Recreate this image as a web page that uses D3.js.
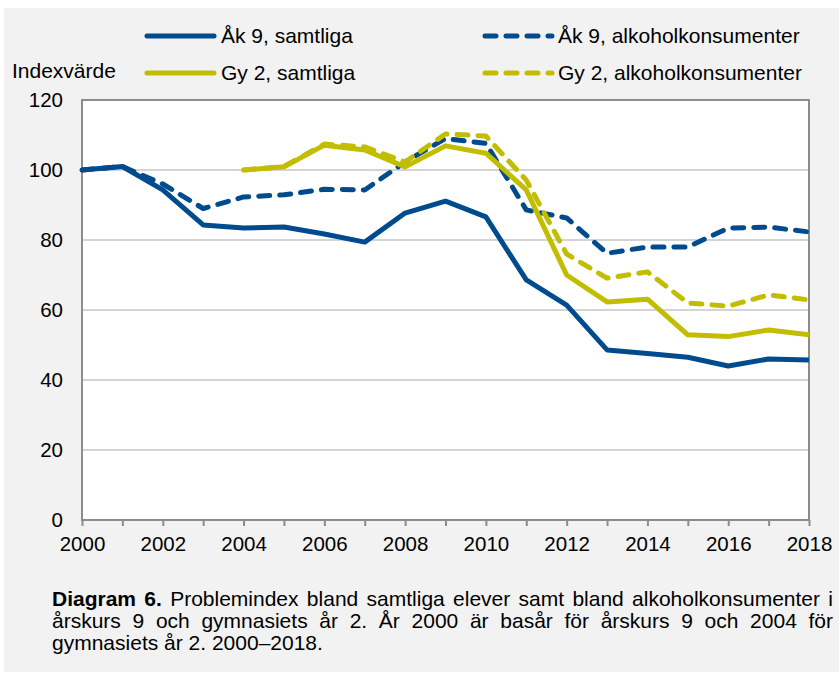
<!DOCTYPE html>
<html>
<head>
<meta charset="utf-8">
<script src="https://cdn.jsdelivr.net/npm/d3@7"></script>
<style>
    body { margin: 0; background: #ffffff; }
    svg { display: block; font-family: "Liberation Sans", Arial, sans-serif; }
</style>
</head>
<body>
<div id="chart"></div>
<script>
    'use strict';

    // data
    const years = [2000, 2001, 2002, 2003, 2004, 2005, 2006, 2007, 2008, 2009,
        2010, 2011, 2012, 2013, 2014, 2015, 2016, 2017, 2018];
    const ak9All = [100, 101, 94.3, 84.3, 83.4, 83.7, 81.7, 79.4, 87.7, 91.1,
        86.6, 68.6, 61.4, 48.6, 47.6, 46.5, 44, 46, 45.7];
    const ak9Alc = [100, 101, 96, 89, 92.3, 92.9, 94.5, 94.3, 102.3, 109,
        107.6, 88.6, 86.3, 76.2, 78, 78, 83.4, 83.7, 82.3];
    const gyAll = [null, null, null, null, 100, 100.9, 107.1, 105.7, 100.9, 106.9,
        104.8, 94.3, 70, 62.3, 63.1, 52.9, 52.4, 54.3, 52.9];
    const gyAlc = [null, null, null, null, 100, 101, 107.4, 106.6, 102.3, 110.3,
        109.7, 97.1, 76, 69.1, 70.9, 62, 61.1, 64.3, 62.9];
    const yTicks = [0, 20, 40, 60, 80, 100, 120];
    const xTicks = [2000, 2002, 2004, 2006, 2008, 2010, 2012, 2014, 2016, 2018];
    const seriesNames = ['Åk 9, samtliga', 'Åk 9, alkoholkonsumenter',
        'Gy 2, samtliga', 'Gy 2, alkoholkonsumenter'];
    const captionLines = [
        'Diagram 6. Problemindex bland samtliga elever samt bland alkoholkonsumenter i',
        'årskurs 9 och gymnasiets år 2. År 2000 är basår för årskurs 9 och 2004 för',
        'gymnasiets år 2. 2000–2018.'
    ];

    // styles
    const blue = '#004b8d',
        yellow = '#c3bd00',
        axisColor = '#8c8c8c',
        gridColor = '#d4d4d4',
        panelColor = '#f2f2f2',
        fontSize = 20.5,
        legendSize = 21,
        fontFamily = '"Liberation Sans", Arial, sans-serif';

    const width = 839,
        height = 674,
        plot = {left: 82, right: 809, top: 100, bottom: 520};

    const series = [
        {name: seriesNames[0], values: ak9All, color: blue, dashed: false},
        {name: seriesNames[1], values: ak9Alc, color: blue, dashed: true},
        {name: seriesNames[2], values: gyAll, color: yellow, dashed: false},
        {name: seriesNames[3], values: gyAlc, color: yellow, dashed: true}
    ];

    const svg = d3.select('#chart')
      .append('svg')
        .attr('width', width)
        .attr('height', height);

    // grey panel behind everything
    svg.append('rect')
        .attr('x', 4)
        .attr('y', 8)
        .attr('width', width - 4)
        .attr('height', height - 10)
        .attr('fill', panelColor);

    const x = d3.scaleLinear()
        .domain([2000, 2018])
        .range([plot.left, plot.right]);

    const y = d3.scaleLinear()
        .domain([0, 120])
        .range([plot.bottom, plot.top]);

    // plot area
    svg.append('rect')
        .attr('x', plot.left)
        .attr('y', plot.top)
        .attr('width', plot.right - plot.left)
        .attr('height', plot.bottom - plot.top)
        .attr('fill', '#ffffff');

    // gridlines
    svg.append('g')
        .selectAll('line')
        .data(yTicks.filter(d => d > 0 && d < 120))
        .join('line')
        .attr('x1', plot.left)
        .attr('x2', plot.right)
        .attr('y1', d => y(d))
        .attr('y2', d => y(d))
        .attr('stroke', gridColor)
        .attr('stroke-width', 2);

    // y axis labels
    const yAxis = svg.append('g')
        .attr('transform', `translate(${plot.left},0)`)
        .call(d3.axisLeft(y).tickValues(yTicks).tickSize(0).tickPadding(19));
    yAxis.select('.domain').remove();
    yAxis.selectAll('text')
        .attr('font-size', fontSize)
        .attr('font-family', fontFamily)
        .attr('fill', '#000');

    // x axis, ticks every year, labels every second
    const xAxis = svg.append('g')
        .attr('transform', `translate(0,${plot.bottom})`)
        .call(d3.axisBottom(x)
            .tickValues(years)
            .tickSize(6)
            .tickPadding(10)
            .tickFormat(d => xTicks.includes(d) ? d : ''));
    xAxis.select('.domain').remove();
    xAxis.selectAll('line')
        .attr('stroke', axisColor)
        .attr('stroke-width', 2);
    xAxis.selectAll('text')
        .attr('font-size', fontSize)
        .attr('font-family', fontFamily)
        .attr('fill', '#000');

    // plot frame
    svg.append('rect')
        .attr('x', plot.left)
        .attr('y', plot.top)
        .attr('width', plot.right - plot.left)
        .attr('height', plot.bottom - plot.top)
        .attr('fill', 'none')
        .attr('stroke', axisColor)
        .attr('stroke-width', 2);

    // lines
    const line = d3.line()
        .defined(d => d.value !== null)
        .x(d => x(d.year))
        .y(d => y(d.value));

    svg.append('g')
        .selectAll('path')
        .data(series)
        .join('path')
        .attr('d', s => line(years.map((yr, i) => ({year: yr, value: s.values[i]}))))
        .attr('fill', 'none')
        .attr('stroke', s => s.color)
        .attr('stroke-width', 5)
        .attr('stroke-linejoin', 'round')
        .attr('stroke-linecap', s => s.dashed ? 'round' : 'butt')
        .attr('stroke-dasharray', s => s.dashed ? '11,10' : null);

    // y axis title
    svg.append('text')
        .attr('x', 12)
        .attr('y', 78)
        .attr('font-size', legendSize)
        .text('Indexvärde');

    // legend
    const legendPos = [
        {x: 145, y: 36},
        {x: 482, y: 36},
        {x: 145, y: 73},
        {x: 482, y: 73}
    ];

    const legend = svg.append('g')
        .selectAll('g')
        .data(series)
        .join('g')
        .attr('transform', (s, i) => `translate(${legendPos[i].x},${legendPos[i].y})`);

    legend.append('line')
        .attr('x1', s => s.dashed ? 3 : 2)
        .attr('x2', s => s.dashed ? 70 : 69)
        .attr('stroke', s => s.color)
        .attr('stroke-width', 5)
        .attr('stroke-linecap', 'round')
        .attr('stroke-dasharray', s => s.dashed ? '11,10' : null);

    legend.append('text')
        .attr('x', 76)
        .attr('dy', '0.35em')
        .attr('font-size', legendSize)
        .text(s => s.name);

    // caption, first two lines justified
    const captionLeft = 52,
        captionRight = 833,
        captionTop = 606,
        captionStep = 22,
        captionSize = 21;

    captionLines.forEach((textLine, li) => {
        const words = textLine.split(' ');
        const g = svg.append('g');
        const nodes = words.map((w, wi) => g.append('text')
            .attr('y', captionTop + li * captionStep)
            .attr('font-size', captionSize)
            .attr('font-weight', li === 0 && wi < 2 ? 'bold' : 'normal')
            .text(w));
        const widths = nodes.map(n => n.node().getComputedTextLength());
        const total = d3.sum(widths);
        const justify = li < captionLines.length - 1;
        let gap = justify ? (captionRight - captionLeft - total) / (words.length - 1) : captionSize * 0.278;
        let squeeze = 1;
        if (gap < captionSize * 0.2) {
            // line too long for the box: shrink glyphs a little
            gap = captionSize * 0.2;
            squeeze = (captionRight - captionLeft - gap * (words.length - 1)) / total;
        }
        let pos = captionLeft;
        nodes.forEach((n, i) => {
            n.attr('x', pos);
            if (squeeze < 1) {
                n.attr('textLength', widths[i] * squeeze).attr('lengthAdjust', 'spacingAndGlyphs');
            }
            pos += widths[i] * squeeze + gap;
        });
    });
</script>
</body>
</html>
